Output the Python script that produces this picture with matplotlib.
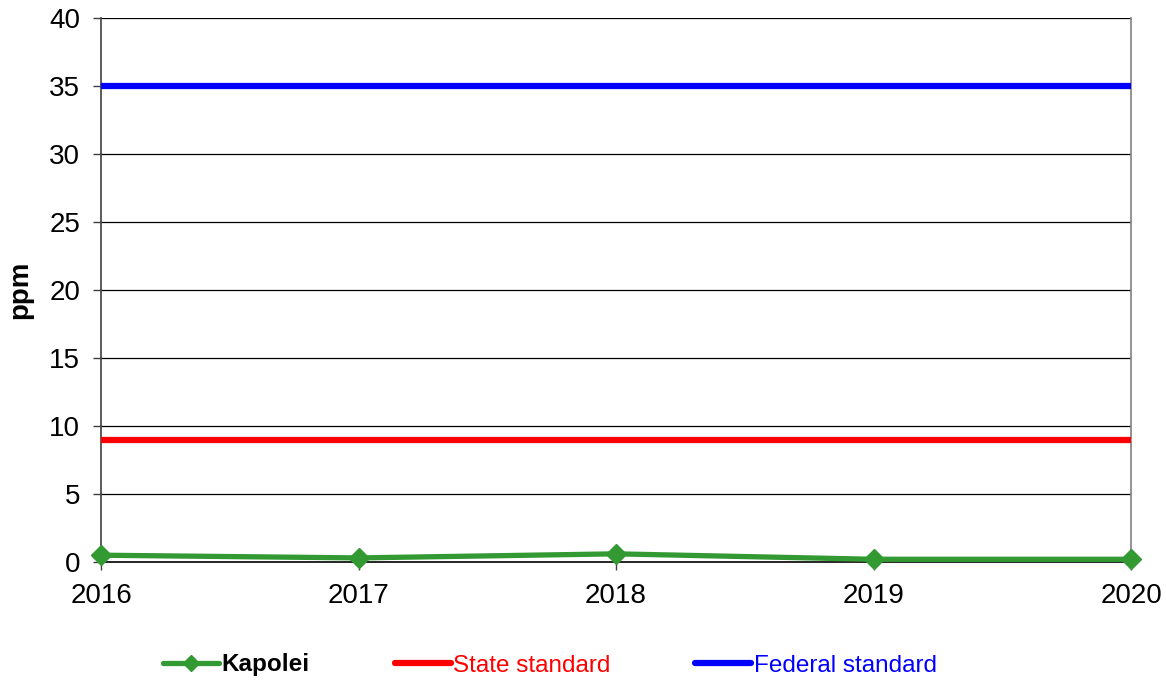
import matplotlib
matplotlib.use("Agg")
import matplotlib.pyplot as plt
from matplotlib.lines import Line2D

years = [2016, 2017, 2018, 2019, 2020]
kapolei = [0.5, 0.3, 0.6, 0.2, 0.2]
state_standard = [9, 9, 9, 9, 9]
federal_standard = [35, 35, 35, 35, 35]
y_ticks = [0, 5, 10, 15, 20, 25, 30, 35, 40]

plt.rcParams['font.family'] = ['Liberation Sans', 'DejaVu Sans']

fig = plt.figure(figsize=(11.66, 6.81), dpi=100)
ax = fig.add_axes([101/1166, 1 - 562/681, (1131-101)/1166, (562-18)/681])

ax.set_xlim(2016, 2020)
ax.set_ylim(0, 40)
ax.set_yticks(y_ticks)
ax.set_xticks(years)
ax.set_xticklabels([str(y) for y in years])

for yv in y_ticks[1:]:
    ax.axhline(yv, color='black', lw=0.9, zorder=1)

l_fed, = ax.plot(years, federal_standard, color='#0000FF', lw=4.5, solid_capstyle='butt', zorder=3, clip_on=False)
l_state, = ax.plot(years, state_standard, color='#FF0000', lw=4.5, solid_capstyle='butt', zorder=3, clip_on=False)
l_kap, = ax.plot(years, kapolei, color='#339933', lw=3.8, marker='D', markersize=10,
                 markerfacecolor='#339933', markeredgecolor='#339933', zorder=4, clip_on=False)

ax.spines['top'].set_visible(False)
ax.spines['right'].set_color('#808080')
ax.spines['right'].set_linewidth(1.2)
ax.spines['left'].set_color('#404040')
ax.spines['left'].set_linewidth(1.2)
ax.spines['bottom'].set_color('black')
ax.spines['bottom'].set_linewidth(1.2)

ax.tick_params(axis='both', labelsize=20, direction='out', length=6, width=1, color='#404040')
ax.tick_params(axis='x', pad=9)
ax.tick_params(axis='y', pad=9)

ax.set_ylabel('ppm', fontsize=20, fontweight='bold')
ax.yaxis.set_label_coords(-68/1030, 0.5)

handles = [
    Line2D([0], [0], color='#339933', lw=3.8, marker='D', markersize=8, solid_capstyle='round'),
    Line2D([0], [0], color='#FF0000', lw=4.5, solid_capstyle='round'),
    Line2D([0], [0], color='#0000FF', lw=4.5, solid_capstyle='round'),
]
labels = ['Kapolei', 'State standard', 'Federal standard']
leg = fig.legend(handles, labels, loc='center', bbox_to_anchor=(550/1166, 1 - 665/681),
                 ncol=3, frameon=False, fontsize=17.5, handlelength=2.3, handletextpad=0.1,
                 columnspacing=3.5)
texts = leg.get_texts()
texts[0].set_color('black')
texts[0].set_fontweight('bold')
texts[1].set_color('#FF0000')
texts[2].set_color('#0000FF')

fig.savefig('out.png', dpi=100)
